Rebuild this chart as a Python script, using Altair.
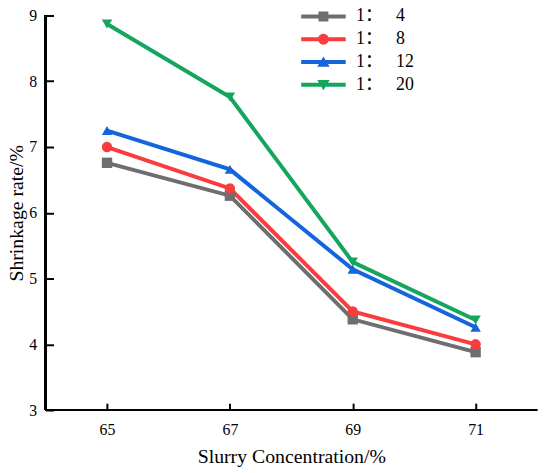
import altair as alt
import pandas as pd

x_vals = [65, 67, 69, 71]
series_names = ["1：\u00a0\u00a0\u00a04", "1：\u00a0\u00a0\u00a08", "1：\u00a0\u00a0\u00a012", "1：\u00a0\u00a0\u00a020"]
s_1_4 = [6.76, 6.26, 4.38, 3.88]
s_1_8 = [7.00, 6.37, 4.50, 4.00]
s_1_12 = [7.25, 6.66, 5.14, 4.26]
s_1_20 = [8.87, 7.76, 5.25, 4.37]
colors = ["#6e6e6e", "#fa3c3c", "#1464dc", "#14a55f"]
marker_shapes = ["square", "circle", "triangle-up", "triangle-down"]
y_ticks = [3, 4, 5, 6, 7, 8, 9]

legend_paths = [
    "M-4.5,-0.4 H4.5 V0.4 H-4.5 Z M-1,-1 H1 V1 H-1 Z",
    "M-4.5,-0.4 H4.5 V0.4 H-4.5 Z M-1.1,0 A1.1,1.1 0 1,1 1.1,0 A1.1,1.1 0 1,1 -1.1,0 Z",
    "M-4.5,-0.4 H4.5 V0.4 H-4.5 Z M0,-1.1 L1.25,0.95 L-1.25,0.95 Z",
    "M-4.5,-0.4 H4.5 V0.4 H-4.5 Z M-1.25,-0.95 L1.25,-0.95 L0,1.1 Z",
]

rows = []
for name, vals in zip(series_names, [s_1_4, s_1_8, s_1_12, s_1_20]):
    for x, y in zip(x_vals, vals):
        rows.append({"conc": x, "rate": y, "series": name})
df = pd.DataFrame(rows)

FONT = "Liberation Serif"
LEGEND_FONT = "Liberation Serif, Noto Sans CJK SC"

x_scale = alt.Scale(domain=[64, 72], nice=False, zero=False)
y_scale = alt.Scale(domain=[3, 9], nice=False, zero=False)

x_enc = alt.X("conc:Q", scale=x_scale,
              axis=alt.Axis(values=x_vals, title="Slurry Concentration/%", offset=-7,
                            domain=False, tickSize=7, tickWidth=2, tickColor="black",
                            labelPadding=12, labelFontSize=16, labelFont=FONT, labelColor="black",
                            titleFontSize=20, titleFont=FONT, titleFontWeight="normal",
                            titleColor="black", titlePadding=9, grid=False, format="d"))
y_enc = alt.Y("rate:Q", scale=y_scale,
              axis=alt.Axis(values=y_ticks, title="Shrinkage rate/%", offset=-8,
                            domain=False, tickSize=8, tickWidth=2, tickColor="black",
                            labelPadding=9, labelFontSize=16, labelFont=FONT, labelColor="black",
                            titleFontSize=20, titleFont=FONT, titleFontWeight="normal",
                            titleColor="black", titlePadding=2, grid=False, format="d"))

base = alt.Chart(df)

layers = []
for i, (name, col) in enumerate(zip(series_names, colors)):
    sub = base.transform_filter(alt.datum.series == name)
    if i == 0:
        line = sub.mark_line(strokeWidth=4, color=col).encode(x=x_enc, y=y_enc)
    else:
        line = sub.mark_line(strokeWidth=4, color=col).encode(x="conc:Q", y="rate:Q")
    layers.append(line)
for name, shp, col in zip(series_names, marker_shapes, colors):
    sub = base.transform_filter(alt.datum.series == name)
    layers.append(sub.mark_point(filled=True, opacity=1, size=110, shape=shp, color=col)
                  .encode(x="conc:Q", y="rate:Q"))

leg = alt.Legend(title=None, orient="none", legendX=272, legendY=-8,
                 labelFont=LEGEND_FONT, labelFontSize=18, labelColor="black",
                 labelOffset=24, rowPadding=5, padding=0,
                 symbolSize=100, symbolOpacity=1, symbolStrokeWidth=0)

legend_layer = base.transform_filter(alt.datum.rate > 100).mark_point(filled=True, opacity=1, size=100).encode(
    x="conc:Q", y="rate:Q",
    color=alt.Color("series:N", scale=alt.Scale(domain=series_names, range=colors), legend=leg),
    shape=alt.Shape("series:N", scale=alt.Scale(domain=series_names, range=legend_paths), legend=leg),
)
layers.append(legend_layer)

layers.append(alt.Chart(df).mark_rule(color="black", strokeWidth=2).encode(y=alt.datum(3)))
layers.append(alt.Chart(df).mark_rule(color="black", strokeWidth=2).encode(x=alt.datum(64)))

chart = alt.layer(*layers).properties(
    width=497, height=399,
    autosize=alt.AutoSizeParams(type="none"),
    padding={"left": 38, "top": 5, "right": 5, "bottom": 55},
    background="white",
).configure_view(stroke=None)

chart.save("out.html", embed_options={"renderer": "svg", "actions": False})
